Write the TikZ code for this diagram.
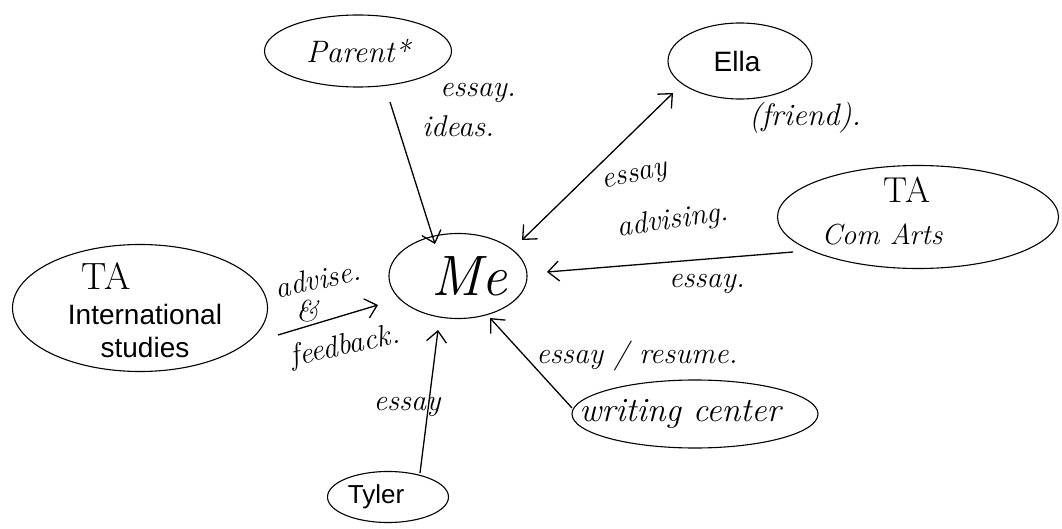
\documentclass[tikz,border=0pt]{standalone}
\usepackage{fontspec}
\newfontfamily\printfont{Liberation Sans}
\usetikzlibrary{shapes.geometric,arrows.meta}
\tikzset{
  ell/.style={ellipse, draw, line width=1.1pt, inner sep=0pt},
  hand/.style={font=\itshape\fontsize{30}{32}\selectfont, inner sep=0pt},
  printed/.style={font=\printfont\fontsize{27}{31}\selectfont},
  arr/.style={line width=1.3pt, -{Straight Barb[length=11pt,width=20pt,line width=1.3pt]}},
  biarr/.style={line width=1.3pt, {Straight Barb[length=11pt,width=20pt,line width=1.3pt]}-{Straight Barb[length=11pt,width=20pt,line width=1.3pt]}}
}
\begin{document}
\begin{tikzpicture}[x=1pt,y=-1pt]
\useasboundingbox (0,0) rectangle (1062,529);
% nodes
\node[ell, minimum width=187pt, minimum height=72pt, font=\itshape\fontsize{31}{33}\selectfont] (parent) at (358,51) {Parent*};
\node[ell, printed, font=\printfont\fontsize{28}{32}\selectfont, minimum width=144pt, minimum height=76pt] (ella) at (740,61) {\hspace*{-6pt}Ella};
\node[hand, font=\itshape\fontsize{31}{33}\selectfont] (friend) at (805,118) {(friend).};
\node[ell, minimum width=281pt, minimum height=103pt] (com) at (918,217) {};
\node[hand, font=\fontsize{36}{38}\selectfont] (comta) at (907,190) {TA};
\node[hand, font=\itshape\fontsize{29}{31}\selectfont] (comt) at (882,234) {Com Arts};
\node[ell, minimum width=136pt, minimum height=85pt, font=\itshape\fontsize{57}{59}\selectfont] (me) at (458,276) {\hspace*{22pt}\raisebox{-17pt}{Me}};
\node[ell, minimum width=255pt, minimum height=127pt] (is) at (140,308) {};
\node[hand, font=\fontsize{38}{40}\selectfont] (ista) at (106,276) {TA};
\node[printed, font=\printfont\fontsize{28}{33}\selectfont, align=center, inner sep=0pt] (ist) at (145,331) {International\\studies};
\node[ell, minimum width=246pt, minimum height=68pt, font=\itshape\fontsize{34}{36}\selectfont] (wc) at (695,414) {\hspace*{-30pt}\raisebox{-3pt}{writing center}};
\node[ell, printed, font=\printfont\fontsize{26}{30}\selectfont, minimum width=121pt, minimum height=51pt] (tyler) at (388,497) {\hspace*{-24pt}Tyler};
% connector end points
\coordinate (p1) at (390,102); \coordinate (p2) at (435,244);
\coordinate (e1) at (673,93);  \coordinate (e2) at (522,240);
\coordinate (c1) at (793,252); \coordinate (c2) at (547,272);
\coordinate (i1) at (278,335); \coordinate (i2) at (378,305);
\coordinate (w1) at (572,408); \coordinate (w2) at (490,318);
\coordinate (t1) at (420,473); \coordinate (t2) at (438,330);
\draw[arr] (p1) -- (p2);
\draw[biarr] (e1) -- (e2);
\draw[arr] (c1) -- (c2);
\draw[arr] (i1) -- (i2);
\draw[arr] (w1) -- (w2);
\draw[arr] (t1) -- (t2);
% labels
\node[hand] (l1a) at (478,93) {essay.};
\node[hand] (l1b) at (458,126) {ideas.};
\node[hand, rotate=12] (l2a) at (635,178) {essay};
\node[hand, rotate=8] (l2b) at (673,221) {advising.};
\node[hand] (l3) at (707,284) {essay.};
\node[hand, rotate=12] (l4a) at (318,279) {advise.};
\node[hand] (l4b) at (307,311) {\&};
\node[hand, rotate=12] (l4c) at (345,347) {feedback.};
\node[hand] (l5) at (637,356) {essay / resume.};
\node[hand] (l6) at (407,407) {essay};
\end{tikzpicture}
\end{document}
